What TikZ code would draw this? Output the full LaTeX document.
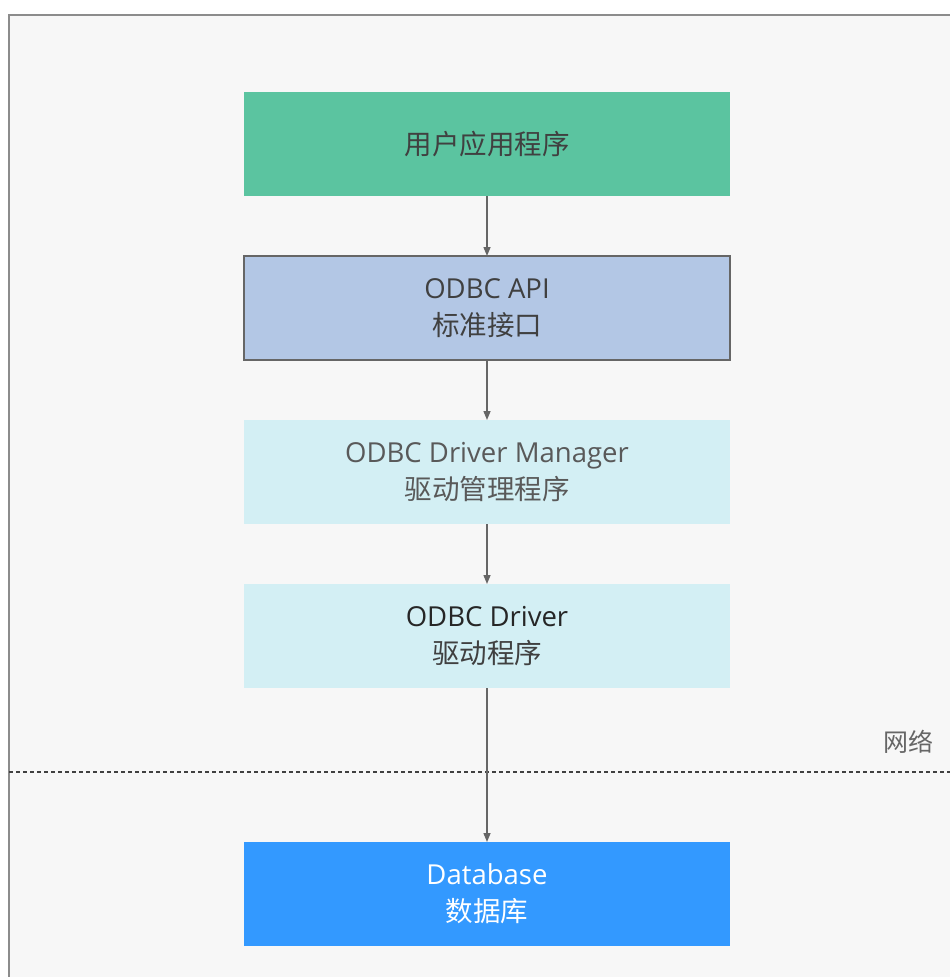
\documentclass[tikz,border=0pt]{standalone}
\usepackage{fontspec}
\setmainfont{Open Sans}
\newfontfamily\cjk{Noto Sans CJK SC}
\usetikzlibrary{positioning,arrows.meta}
\definecolor{bgframe}{HTML}{F7F7F7}
\definecolor{framegray}{HTML}{8C8C8C}
\definecolor{appgreen}{HTML}{5BC4A0}
\definecolor{apiblue}{HTML}{B3C7E5}
\definecolor{drvcyan}{HTML}{D3EFF4}
\definecolor{dbblue}{HTML}{3399FF}
\definecolor{linegray}{HTML}{666666}
\definecolor{textgray}{HTML}{404040}
\begin{document}
\begin{tikzpicture}[x=1pt,y=1pt,
layerbox/.style={font=\fontsize{27.5}{37}\selectfont, align=center, minimum width=486pt, minimum height=104pt, inner sep=0pt, outer sep=0pt, text=textgray},
flow/.style={draw=linegray, line width=1.4pt, -{Triangle[length=9pt,width=7pt]}}]
\useasboundingbox (0,0) rectangle (950,-977);
% frame
\draw[framegray, line width=2pt, fill=bgframe] (9,-15) rectangle (990,-1010);
% layers
\node[layerbox, fill=appgreen] (app) at (487,-144) {\cjk 用户应用程序};
\node[layerbox, fill=apiblue, draw=linegray, line width=1.4pt, below=60pt of app] (api) {ODBC API\\\cjk 标准接口};
\node[layerbox, fill=drvcyan, text=black!65, below=60pt of api] (mgr) {ODBC Driver Manager\\\cjk 驱动管理程序};
\node[layerbox, fill=drvcyan, text=black!85, below=60pt of mgr] (drv) {ODBC Driver\\\cjk\color{textgray} 驱动程序};
\node[layerbox, fill=dbblue, text=white, below=154pt of drv] (db) {Database\\\cjk 数据库};
% network boundary
\coordinate (netl) at (9,-772);
\coordinate (netr) at (950,-772);
\draw[black!75, line width=1.2pt, dash pattern=on 4pt off 3pt] (netl) -- (netr);
\node[font=\cjk\fontsize{25}{30}\selectfont, text=linegray, anchor=south east] (net) at (937,-757) {网络};
% calls
\draw[flow] (app) -- (api);
\draw[flow] (api) -- (mgr);
\draw[flow] (mgr) -- (drv);
\draw[flow] (drv) -- (db);
\end{tikzpicture}
\end{document}
